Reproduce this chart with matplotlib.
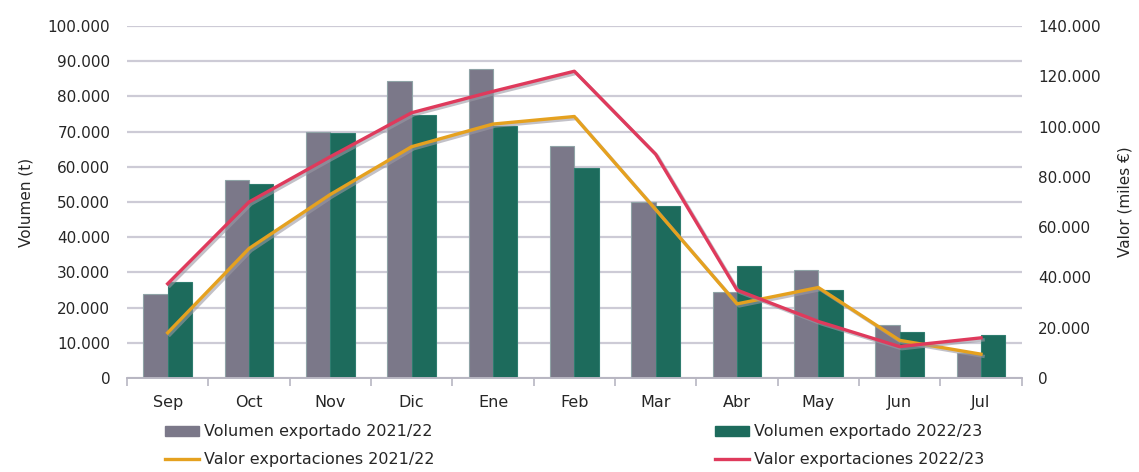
import numpy as np
import matplotlib
matplotlib.use('Agg')
import matplotlib.pyplot as plt
import matplotlib.patheffects as pe
from matplotlib.ticker import FuncFormatter, MultipleLocator
from matplotlib.patches import Patch
from matplotlib.lines import Line2D

# data
meses = ['Sep', 'Oct', 'Nov', 'Dic', 'Ene', 'Feb', 'Mar', 'Abr', 'May', 'Jun', 'Jul']
vol_2122 = [24000, 56200, 70000, 84500, 87700, 65800, 50000, 24500, 30800, 15000, 7000]
vol_2223 = [27200, 55200, 69500, 74800, 71500, 59800, 48800, 31700, 24900, 13200, 12200]
valor_2122 = [18000, 51500, 73000, 92000, 101000, 104000, 67000, 29500, 36000, 15000, 9500]
valor_2223 = [37500, 70000, 88000, 105500, 114000, 122000, 89000, 35000, 22500, 12500, 16000]

c_gris = '#7b7889'
c_verde = '#1d6b5c'
c_amar = '#e5a11f'
c_rojo = '#df3a5c'
c_grid = '#cdcbd6'
c_txt = '#262626'

plt.rcParams['font.family'] = ['DejaVu Sans']

fig = plt.figure(figsize=(11.39, 4.72), dpi=100)
ax = fig.add_axes([0.1115, 0.199, 0.7855, 0.746])
ax2 = ax.twinx()

x = np.arange(len(meses))
w = 0.3
ax.bar(x - w/2, vol_2122, w, color=c_gris, edgecolor='#8fa3a6', linewidth=0.8, zorder=2)
ax.bar(x + w/2, vol_2223, w, color=c_verde, edgecolor='#2f7d6f', linewidth=0.8, zorder=2)

shadow = [pe.SimpleLineShadow(offset=(1.5, -1.5), shadow_color='#9a98a4', alpha=0.6), pe.Normal()]
ax2.plot(x, valor_2122, color=c_amar, lw=2.4, path_effects=shadow, zorder=3)
ax2.plot(x, valor_2223, color=c_rojo, lw=2.4, path_effects=shadow, zorder=3)

fmt = FuncFormatter(lambda v, p: '{:,.0f}'.format(v).replace(',', '.'))

ax.set_xlim(-0.5, len(meses) - 0.5)
ax.set_ylim(0, 100000)
ax.yaxis.set_major_locator(MultipleLocator(10000))
ax.yaxis.set_major_formatter(fmt)
ax2.set_ylim(0, 140000)
ax2.yaxis.set_major_locator(MultipleLocator(20000))
ax2.yaxis.set_major_formatter(fmt)

ax.grid(axis='y', color=c_grid, lw=1.6, zorder=0)
ax.set_axisbelow(True)
for a in (ax, ax2):
    for s in ('top', 'left', 'right'):
        a.spines[s].set_visible(False)
    a.spines['bottom'].set_color('#b8b6c2')
    a.spines['bottom'].set_linewidth(1.2)

ax.set_xticks(x)
ax.set_xticklabels(meses, fontsize=11.5, color=c_txt)
ax.set_xticks(np.arange(-0.5, len(meses), 1), minor=True)
ax.tick_params(axis='x', which='major', length=0, pad=12)
ax.tick_params(axis='x', which='minor', length=6, color='#b8b6c2', width=1.2)
ax.tick_params(axis='y', length=0, labelsize=11, labelcolor=c_txt, pad=12)
ax2.tick_params(axis='y', length=0, labelsize=11, labelcolor=c_txt, pad=12)

ax.set_ylabel('Volumen (t)', fontsize=11, color=c_txt, labelpad=10)
ax2.set_ylabel('Valor (miles €)', fontsize=11, color=c_txt, labelpad=12)

h1 = [Patch(color=c_gris), Line2D([], [], color=c_amar, lw=2.4)]
h2 = [Patch(color=c_verde), Line2D([], [], color=c_rojo, lw=2.4)]
kw = dict(frameon=False, fontsize=11.5, handlelength=2.1, handleheight=0.6,
          handletextpad=0.3, labelspacing=0.8, borderpad=0, labelcolor=c_txt)
fig.legend(h1, ['Volumen exportado 2021/22', 'Valor exportaciones 2021/22'],
           loc='upper left', bbox_to_anchor=(0.138, 0.118), **kw)
fig.legend(h2, ['Volumen exportado 2022/23', 'Valor exportaciones 2022/23'],
           loc='upper left', bbox_to_anchor=(0.621, 0.118), **kw)

fig.savefig('out.png', dpi=100, facecolor='white')
